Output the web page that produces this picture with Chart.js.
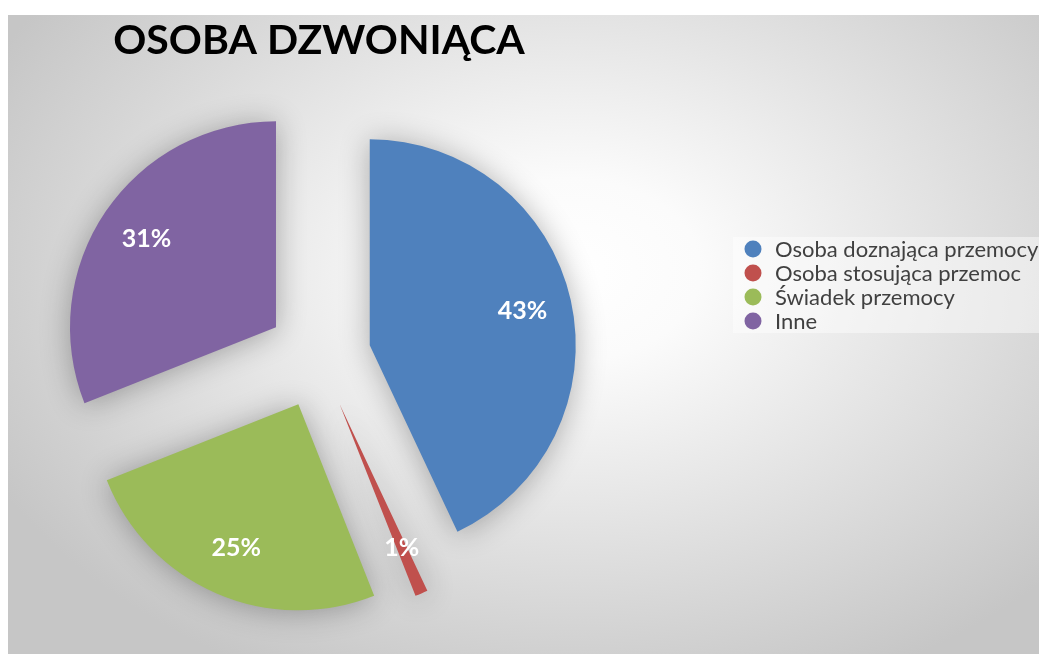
<!DOCTYPE html>
<html lang="pl">
<head>
<meta charset="utf-8">
<title>Osoba dzwoniąca</title>
<script src="https://cdn.jsdelivr.net/npm/chart.js@4.4.1/dist/chart.umd.min.js"></script>
<style>
  html, body { margin: 0; padding: 0; background: #fff; }
  canvas { display: block; }
</style>
</head>
<body>
<canvas id="myChart" width="1039" height="655"></canvas>
<script>
const chartTitle = 'OSOBA DZWONIĄCA';
const categories = ['Osoba doznająca przemocy', 'Osoba stosująca przemoc', 'Świadek przemocy', 'Inne'];
const values = [43, 1, 25, 31];
const colors = ['#4F81BD', '#C0504D', '#9BBB59', '#8064A2'];

const EXPLODE = 52;      // distance of each slice from the centre
const PIE_RADIUS = 206;

// every slice is pushed out along its bisector, with a soft shadow
const baseArcDraw = Chart.ArcElement.prototype.draw;
Chart.ArcElement.prototype.draw = function (ctx) {
  const half = (this.startAngle + this.endAngle) / 2;
  ctx.save();
  ctx.translate(Math.cos(half) * EXPLODE, Math.sin(half) * EXPLODE);
  ctx.shadowColor = 'rgba(0, 0, 0, 0.3)';
  ctx.shadowBlur = 30;
  ctx.shadowOffsetY = 2;
  baseArcDraw.call(this, ctx);
  ctx.restore();
};

// grey radial background of the chart frame
const backgroundPlugin = {
  id: 'background',
  beforeDraw(chart) {
    const ctx = chart.ctx;
    ctx.save();
    ctx.fillStyle = '#fff';
    ctx.fillRect(0, 0, chart.width, chart.height);

    const cx = 570, cy = 270, sy = 0.7;
    ctx.translate(cx, cy);
    ctx.scale(1, sy);
    const g = ctx.createRadialGradient(0, 0, 0, 0, 0, 650);
    g.addColorStop(0, '#ffffff');
    g.addColorStop(0.2, '#fbfbfb');
    g.addColorStop(1, '#c6c6c6');
    ctx.fillStyle = g;
    ctx.fillRect(8 - cx, (15 - cy) / sy, chart.width, (654 - 15) / sy);
    ctx.restore();
  }
};

// percentage labels inside the slices
const labelPlugin = {
  id: 'sliceLabels',
  afterDatasetsDraw(chart) {
    const ctx = chart.ctx;
    const meta = chart.getDatasetMeta(0);
    const total = values.reduce((a, b) => a + b, 0);
    ctx.save();
    ctx.font = 'bold 25px Lato';
    ctx.fillStyle = '#ffffff';
    ctx.textAlign = 'center';
    ctx.textBaseline = 'middle';
    meta.data.forEach((arc, i) => {
      const half = (arc.startAngle + arc.endAngle) / 2;
      const d = EXPLODE + arc.outerRadius * 0.76;
      const text = Math.round(values[i] / total * 100) + '%';
      ctx.fillText(text, arc.x + Math.cos(half) * d, arc.y + Math.sin(half) * d);
    });
    ctx.restore();
  }
};

// legend on the right, on its own light box
const legendPlugin = {
  id: 'sideLegend',
  afterDraw(chart) {
    const ctx = chart.ctx;
    ctx.save();
    ctx.fillStyle = 'rgba(255, 255, 255, 0.45)';
    ctx.fillRect(733, 237, 306, 96);
    ctx.font = '22px Lato';
    ctx.textBaseline = 'middle';
    categories.forEach((label, i) => {
      const y = 249 + i * 24;
      ctx.fillStyle = colors[i];
      ctx.beginPath();
      ctx.arc(753, y, 8.5, 0, Math.PI * 2);
      ctx.fill();
      ctx.fillStyle = '#404040';
      ctx.fillText(label, 775, y + 1);
    });
    ctx.restore();
  }
};

new Chart(document.getElementById('myChart'), {
  type: 'pie',
  data: {
    labels: categories,
    datasets: [{
      data: values,
      backgroundColor: colors,
      borderWidth: 0,
      radius: PIE_RADIUS,
      clip: false
    }]
  },
  options: {
    responsive: false,
    animation: false,
    events: [],
    layout: { padding: { left: 20, right: 421, top: 15, bottom: 17 } },
    plugins: {
      legend: { display: false },
      tooltip: { enabled: false },
      title: {
        display: true,
        text: chartTitle,
        align: 'center',
        color: '#000000',
        font: { family: 'Lato', size: 41, weight: 'bold', lineHeight: 1.2 },
        padding: { top: 1, bottom: 10 }
      }
    }
  },
  plugins: [backgroundPlugin, labelPlugin, legendPlugin]
});
</script>
</body>
</html>
